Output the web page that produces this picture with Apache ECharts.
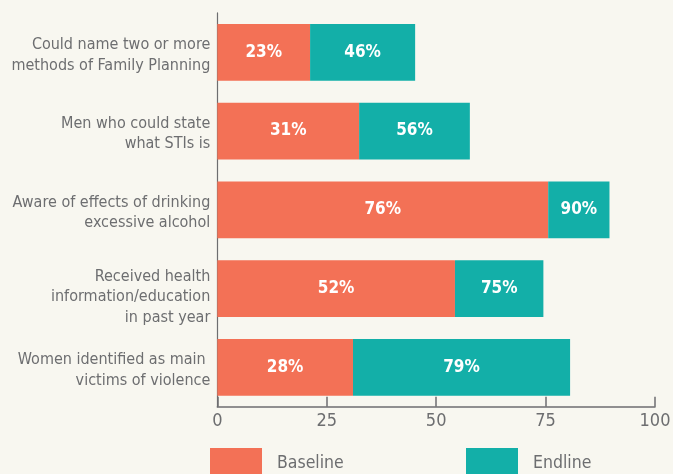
<!DOCTYPE html>
<html>
<head>
<meta charset="utf-8">
<script src="https://cdn.jsdelivr.net/npm/echarts@6/dist/echarts.min.js"></script>
<style>
  html, body { margin: 0; padding: 0; background: #f8f7f0; }
  #chart { width: 673px; height: 474px; }
</style>
</head>
<body>
<div id="chart"></div>
<script>
// categories, top to bottom
const categories = [
  'Could name two or more\nmethods of Family Planning',
  'Men who could state\nwhat STIs is',
  'Aware of effects of drinking\nexcessive alcohol',
  'Received health\ninformation/education\nin past year',
  'Women identified as main \nvictims of violence'
]
// bar lengths as drawn
const baseline = [21.2, 32.4, 75.6, 54.3, 31.0]
const endline = [45.2, 57.7, 89.6, 74.5, 80.6]
// printed labels
const baselineLabels = ['23%', '31%', '76%', '52%', '28%']
const endlineLabels = ['46%', '56%', '90%', '75%', '79%']
const xTicks = [0, 25, 50, 75, 100]

const font = '"DejaVu Sans Condensed", "DejaVu Sans", sans-serif'
const grey = '#6d6e70'
const orange = '#f37156'
const teal = '#13afa8'

const chart = echarts.init(document.getElementById('chart'))

// endline drawn as the part on top of the baseline
const endlineRest = endline.map((v, i) => +(v - baseline[i]).toFixed(1))

const legendBase = {
  top: 448,
  padding: 0,
  itemWidth: 52,
  itemHeight: 30,
  icon: 'rect',
  selectedMode: false,
  textStyle: { fontFamily: font, fontSize: 17.5, color: grey, padding: [0, 0, 0, 10] }
}

chart.setOption({
  backgroundColor: '#f8f7f0',
  animation: false,
  legend: [
    Object.assign({ left: 210, data: ['Baseline'] }, legendBase),
    Object.assign({ left: 466, data: ['Endline'] }, legendBase)
  ],
  grid: { left: 217.3, right: 18, top: 12.9, bottom: 67.3, outerBoundsMode: 'none' },
  xAxis: {
    type: 'value',
    min: xTicks[0],
    max: xTicks[xTicks.length - 1],
    interval: 25,
    splitLine: { show: false },
    axisLine: { show: true, lineStyle: { color: grey, width: 1.5 } },
    axisTick: { show: true, inside: true, length: 10, lineStyle: { color: grey, width: 1.5 } },
    axisLabel: { fontFamily: font, fontSize: 18, color: grey, margin: 6 }
  },
  yAxis: {
    type: 'category',
    inverse: true,
    data: categories,
    axisLine: { show: true, lineStyle: { color: grey, width: 1.2 } },
    axisTick: { show: false },
    axisLabel: {
      fontFamily: font,
      fontSize: 16,
      lineHeight: 20.5,
      color: grey,
      margin: 7,
      align: 'right',
      // small empty first line pushes the text down a little, as in the original
      formatter: (v) => (v.split('\n').length > 2 ? '{gb|}' : '{ga|}') + '\n' + v,
      rich: {
        ga: { lineHeight: 6, fontSize: 1 },
        gb: { lineHeight: 17, fontSize: 1 }
      }
    }
  },
  series: [
    {
      name: 'Baseline',
      type: 'bar',
      stack: 'total',
      barCategoryGap: '28%',
      itemStyle: { color: orange },
      label: {
        show: true,
        position: 'inside',
        color: '#fff',
        fontFamily: font,
        fontWeight: 'bold',
        fontSize: 17,
        formatter: p => baselineLabels[p.dataIndex]
      },
      data: baseline
    },
    {
      name: 'Endline',
      type: 'bar',
      stack: 'total',
      itemStyle: { color: teal },
      label: {
        show: true,
        position: 'inside',
        color: '#fff',
        fontFamily: font,
        fontWeight: 'bold',
        fontSize: 17,
        formatter: p => endlineLabels[p.dataIndex]
      },
      data: endlineRest
    }
  ]
})
</script>
</body>
</html>
